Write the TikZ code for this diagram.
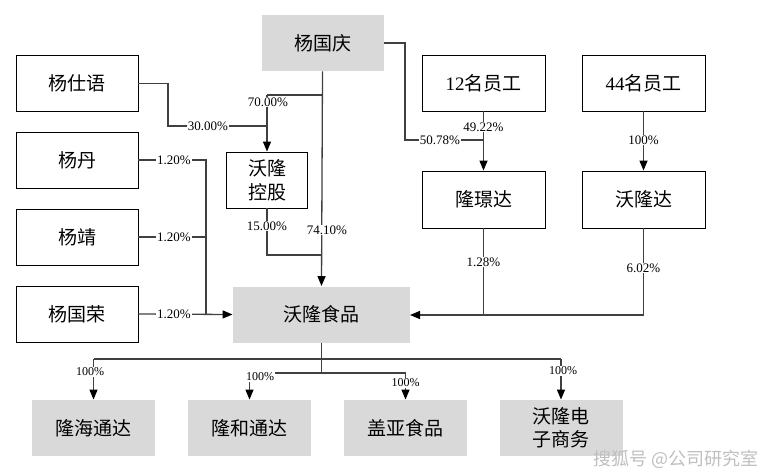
\documentclass[tikz,border=0pt]{standalone}
\usepackage{fontspec}
\setmainfont{Liberation Serif}
\newfontfamily\cjk{Noto Sans CJK SC}
\usetikzlibrary{arrows.meta}
\begin{document}
\begin{tikzpicture}[x=1pt,y=-1pt,
  box/.style={draw=black,line width=0.9pt,fill=white,minimum width=122pt,minimum height=56pt,inner sep=0pt,align=center,font=\fontsize{19}{24}\selectfont\cjk},
  gbox/.style={box,draw=none,fill=black!15},
  ln/.style={draw=black!75,line width=1.3pt},
  arr/.style={ln,-{Triangle[length=10pt,width=8pt,color=black]}},
  pct/.style={fill=white,inner sep=0.8pt,font=\fontsize{13}{14}\selectfont},
  pcts/.style={pct,font=\fontsize{12}{13}\selectfont}]
\useasboundingbox (0,0) rectangle (766,475);
% nodes
\node[gbox] (yq) at (322.5,43) {杨国庆};
\node[box] (ysy) at (77,83.5) {杨仕语};
\node[box] (yd) at (77,160) {杨丹};
\node[box] (yj) at (77,237) {杨靖};
\node[box] (ygr) at (77,314) {杨国荣};
\node[box,minimum width=81pt] (wlkg) at (267,180) {沃隆\\控股};
\node[gbox,minimum width=177pt] (wlsp) at (321.5,314.5) {沃隆食品};
\node[box,minimum width=123pt] (e12) at (483.5,83) {{\normalfont 12}名员工};
\node[box,minimum width=123pt] (e44) at (643.5,83) {{\normalfont 44}名员工};
\node[box,minimum width=123pt,minimum height=57pt] (ljd) at (483.5,199.5) {隆璟达};
\node[box,minimum width=123pt,minimum height=57pt] (wld) at (643.5,199.5) {沃隆达};
\node[gbox,minimum width=123pt] (lhtd) at (93.5,428) {隆海通达};
\node[gbox,minimum width=123pt] (lhetd) at (249.5,428) {隆和通达};
\node[gbox,minimum width=123pt] (gysp) at (405.5,428) {盖亚食品};
\node[gbox,minimum width=123pt,font=\fontsize{19}{23}\selectfont\cjk] (wldz) at (561,428) {沃隆电\\子商务};
% coordinates
\coordinate (a1) at (322,95);
\coordinate (a2) at (267,95);
\coordinate (b1) at (168,83.5);
\coordinate (b2) at (168,126);
\coordinate (b3) at (267,126);
\coordinate (c1) at (405,43);
\coordinate (c2) at (405,140);
\coordinate (c3) at (483.5,140);
\coordinate (d1) at (483.5,315);
\coordinate (d2) at (643.5,315);
\coordinate (d3) at (410,315);
\coordinate (f1) at (206,160);
\coordinate (f2) at (206,237);
\coordinate (f3) at (206,314);
\coordinate (g1) at (267,255);
\coordinate (g2) at (322,255);
\coordinate (h0) at (321.5,373);
\coordinate (h1) at (93.5,359);
\coordinate (h2) at (561,359);
\coordinate (h3) at (249.5,373);
\coordinate (h4) at (405.5,373);
% connectors
\draw[arr] (yq.south) -- (wlsp.north);
\draw[ln] (a1) -- (a2);
\draw[arr] (a2) -- (wlkg.north);
\draw[ln] (ysy.east) -- (b1) -- (b2) -- (b3);
\draw[ln] (yq.east) -- (c1) -- (c2) -- (c3);
\draw[arr] (e12.south) -- (ljd.north);
\draw[arr] (e44.south) -- (wld.north);
\draw[ln] (ljd.south) -- (d1);
\draw[arr] (wld.south) -- (d2) -- (d3);
\draw[ln] (yd.east) -- (f1) -- (f3);
\draw[ln] (yj.east) -- (f2);
\draw[arr] (ygr.east) -- (wlsp.west);
\draw[ln] (wlkg.south) -- (g1) -- (g2);
\draw[ln] (wlsp.south) -- (h0);
\draw[ln] (h1) -- (h2);
\draw[ln] (h3) -- (h4);
\draw[arr] (h1) -- (lhtd.north);
\draw[arr] (h3) -- (lhetd.north);
\draw[arr] (h4) -- (gysp.north);
\draw[arr] (h2) -- (wldz.north);
% labels
\node[pct] (l70) at (268,102) {70.00\%};
\node[pct] (l30) at (208,126) {30.00\%};
\node[pct] (l15) at (267,226) {15.00\%};
\node[pct] (l74) at (327,230) {74.10\%};
\node[pct] (l50) at (440,140) {50.78\%};
\node[pct] (l49) at (483.5,127) {49.22\%};
\node[pct] (l100) at (643.5,140) {100\%};
\node[pct] (l128) at (483.5,262) {1.28\%};
\node[pct] (l602) at (643.5,268) {6.02\%};
\node[pct] (l12a) at (174,160) {1.20\%};
\node[pct] (l12b) at (174,237) {1.20\%};
\node[pct] (l12c) at (174,314) {1.20\%};
\node[pcts] (m1) at (90,372) {100\%};
\node[pcts] (m2) at (260,377) {100\%};
\node[pcts] (m3) at (405.5,383) {100\%};
\node[pcts] (m4) at (563,371) {100\%};
% watermark
\node[text=black!25,font=\fontsize{18}{20}\selectfont\cjk,anchor=east] (wm) at (762,459) {\textit{搜狐号}\ @公司研究室};
\end{tikzpicture}
\end{document}
